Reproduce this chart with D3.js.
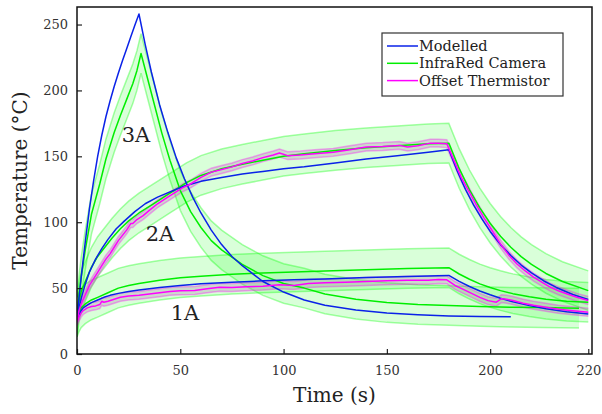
<!DOCTYPE html>
<html><head><meta charset="utf-8">
<script src="https://cdn.jsdelivr.net/npm/d3@7"></script>
<style>body{margin:0;background:#fff}svg{display:block}</style>
</head><body><svg id="c" width="602" height="414"></svg>
<script>
// ---- data ----
const xTickValues = [0, 50, 100, 150, 200, 247.5];
const xTickLabels = ["0", "50", "100", "150", "200", "220"];
const yTickValues = [0, 50, 100, 150, 200, 250];
const seriesNames = ["Modelled", "InfraRed Camera", "Offset Thermistor"];
const cameraUncertainty = 15;
const thermistorUncertainty = 3;

// 3A
const t3A_model = [0,2,4,6,8,10,12,14,16,18,20,22,24,26,28,30,33,36,40,44,48,52,56,60,65,70,75,80,90,100,110,120,135,150,165,180,195,210];
const T3A_model = [28,58,85,110,131,150,166,180,192,203,213,222.5,231.5,240.5,249.5,258,235,214,189,168,149,133,119,107,94,83,74,67,55,47,41,37,33.4,31.2,29.8,28.9,28.4,28.2];
const t3A_cam = [0,1,2,4,7,11,14,18,21,24,27,29,31,34,37,41,45,50,55,60,65,70,80,90,100,110,120,135,150,165,180,195,210,225,243];
const T3A_cam = [28,45,58,79,106,129,148,168,181,193,205,215,228,210,192,168,147,124,108,96,86,79,68,59.5,53.5,50,45.5,41.5,39,37.6,36.8,36,35.5,35.2,34.8];

// 2A
const t2A_model = [0,2,4,6,9,12,15,19,23,28,33,39,45,52,60,70,80,90,100,110,125,140,155,170,180,184,188,192,196,200,205,210,215,220,226,232,240,247.5];
const T2A_model = [28,42,53,62,72,80,87,95,101,108,114,119,123,127.5,131,134,136.5,138.5,140.5,142,145,148,150.5,153,155,139,125,113,102.5,93,83,74.7,67.5,61.5,55.4,50.5,45.1,41.3];
const t2A_cam = [0,1,2,4,7,10,13,17,21,25,30,37,45,53,60,70,80,90,100,110,125,140,155,170,180,185,190,195,200,205,210,215,220,227,235,247.5];
const T2A_cam = [28,40,47,55,66,74,80,88,95,101,107,114,122,130,135.5,140.5,144,147,150,152,154.5,156.5,158,159.5,160,140.8,124.6,110.9,99.2,89.4,81,73.9,68,61.1,55,48.1];
const t2A_therm = [0,1,2,4,6,8,10,12,14,16,18,20,22,24,26,27,29,32,35,39,43,47,51,55,60,65,70,75,80,85,90,95,98,102,108,115,124,132,140,148,156,160,165,171,175,179,183,186,189,193,197,201,205,209,213,217,221,225,229,233,237,242,247.5];
const T2A_therm = [25,33,38,45,52,57,62,67,72,76,81,86,90,94,99,99,102,105,109,114,118,122,126,129,134,138,140,142,144.5,146.5,149,151,152.5,150.5,151,152,153,155,157,157.5,158.3,157,158,160,160,159.6,145,134,125.5,114,103.3,93.5,83.5,75,68.3,63,58.3,54.5,50.8,48,45.7,43,40.6];

// 1A
const t1A_model = [0,1,2,3,5,7,10,13,16,20,25,30,40,50,60,75,90,105,120,140,160,180,185,190,195,200,205,211,219,227,237,247.5];
const T1A_model = [26,30,33,35,37,39,41,43,44.5,46,47.5,48.5,50.5,52,53.3,54.5,55.5,56.3,57,58,58.8,59.6,55.1,51.2,47.8,44.9,42.3,39.6,36.7,34.4,32.1,30.3];
const t1A_cam = [0,1,2,4,7,10,15,20,25,30,40,50,60,75,90,105,120,140,160,180,185,190,195,200,205,211,219,227,237,247.5];
const T1A_cam = [28,32,35,38,41,43,46.5,50,52,53.5,56,57.8,59,60.5,61.5,62.3,63,64,64.8,65.5,60.7,56.7,53.2,50.4,48.1,45.8,43.4,41.6,40.1,39.3];
const t1A_therm = [0,1,2,3,5,7,9,11,12,13,15,18,21,25,30,35,40,45,50,57,63,69,75,82,90,98,105,112,120,130,140,150,160,170,175,179,183,187,191,195,199,203,205.5,208,211,216,221,227,233,240,247.5];
const T1A_therm = [24,28,31,33,35,36,36.5,37.5,40,39.3,40,41.5,43,44,44.5,45.5,46.5,47.5,48,48.2,49.5,50.7,50.5,51,51.5,52.5,52,53.5,54,54.5,55,55.5,56,56,56.5,56.3,52,49,46,43,40.5,39.3,42,41.5,40.6,38.5,37,35.5,34,32.8,31.7];

const caseLabels = ["3A", "2A", "1A"];
const caseLabelPos = [[136, 141.7], [160, 240.7], [185, 320]]; // label anchors in px

// ---- chart ----
const svg = d3.select("#c");
const L = 77, R = 592, T = 7, B = 354;
const x = d3.scaleLinear().domain([0, 249.3]).range([L, R]);
const y = d3.scaleLinear().domain([0, 263.3]).range([B, T]);
const zip = (ts, vs) => ts.map((t, i) => [t, vs[i]]);

svg.append("defs").append("clipPath").attr("id", "clip")
  .append("rect").attr("x", L).attr("y", T).attr("width", R - L).attr("height", B - T);

const g = svg.append("g").attr("clip-path", "url(#clip)");
const line = d3.line().x(d => x(d[0])).y(d => y(d[1]));
const lineOff = (k) => d3.line().x(d => x(d[0])).y(d => y(d[1] + k));
const area = (hw) => d3.area().x(d => x(d[0])).y0(d => y(d[1] - hw)).y1(d => y(d[1] + hw));

const COL_MODEL = "#0a22e8", COL_CAM = "#00ee00", COL_TH = "#ff00ff";

function camBand(d) {
  g.append("path").attr("d", area(cameraUncertainty)(d)).attr("fill", "#00ff00").attr("fill-opacity", 0.15);
  [cameraUncertainty, -cameraUncertainty].forEach(k =>
    g.append("path").attr("d", lineOff(k)(d)).attr("fill", "none").attr("stroke", "#00ff00").attr("stroke-opacity", 0.35).attr("stroke-width", 1.5));
}
function thBand(d) {
  g.append("path").attr("d", area(thermistorUncertainty)(d)).attr("fill", "#b080b0").attr("fill-opacity", 0.3);
  [thermistorUncertainty, -thermistorUncertainty].forEach(k =>
    g.append("path").attr("d", lineOff(k)(d)).attr("fill", "none").attr("stroke", "#ff00ff").attr("stroke-opacity", 0.35).attr("stroke-width", 1.5));
}
function ln(d, c) {
  g.append("path").attr("d", line(d)).attr("fill", "none").attr("stroke", c).attr("stroke-width", 1.5).attr("stroke-linejoin", "round");
}

const d3A_m = zip(t3A_model, T3A_model), d3A_c = zip(t3A_cam, T3A_cam);
const d2A_m = zip(t2A_model, T2A_model), d2A_c = zip(t2A_cam, T2A_cam), d2A_t = zip(t2A_therm, T2A_therm);
const d1A_m = zip(t1A_model, T1A_model), d1A_c = zip(t1A_cam, T1A_cam), d1A_t = zip(t1A_therm, T1A_therm);

[d1A_c, d2A_c, d3A_c].forEach(camBand);
[d1A_t, d2A_t].forEach(thBand);
[d1A_c, d2A_c, d3A_c].forEach(d => ln(d, COL_CAM));
[d1A_m, d2A_m, d3A_m].forEach(d => ln(d, COL_MODEL));
[d1A_t, d2A_t].forEach(d => ln(d, COL_TH));

// axes
const FONT = "DejaVu Serif";
const xAxis = d3.axisBottom(x).tickValues(xTickValues).tickFormat((d, i) => xTickLabels[i]).tickSizeInner(-5).tickSizeOuter(0).tickPadding(12);
const yAxis = d3.axisLeft(y).tickValues(yTickValues).tickFormat(d3.format("d")).tickSizeInner(-5).tickSizeOuter(0).tickPadding(9);
const gx = svg.append("g").attr("transform", `translate(0,${B})`).call(xAxis);
const gy = svg.append("g").attr("transform", `translate(${L},0)`).call(yAxis);
[gx, gy].forEach(a => {
  a.select(".domain").remove();
  a.selectAll("line").attr("stroke", "#222").attr("stroke-width", 1.2);
  a.selectAll("text").attr("font-family", FONT).attr("font-size", 13).attr("fill", "#333");
});
svg.append("rect").attr("x", L).attr("y", T).attr("width", R - L).attr("height", B - T)
  .attr("fill", "none").attr("stroke", "#111").attr("stroke-width", 1.5);

svg.append("text").attr("x", (L + R) / 2).attr("y", 402).attr("text-anchor", "middle")
  .attr("font-family", FONT).attr("font-size", 20).attr("fill", "#222").text("Time (s)");
svg.append("text").attr("transform", `translate(27,${(T + B) / 2}) rotate(-90)`).attr("text-anchor", "middle")
  .attr("font-family", FONT).attr("font-size", 20).attr("fill", "#222").text("Temperature (°C)");

caseLabels.forEach((s, i) => svg.append("text").attr("x", caseLabelPos[i][0]).attr("y", caseLabelPos[i][1])
  .attr("text-anchor", "middle").attr("font-family", FONT).attr("font-size", 21).attr("fill", "#222").text(s));

// legend
const lg = svg.append("g");
lg.append("rect").attr("x", 382).attr("y", 33).attr("width", 181).attr("height", 63)
  .attr("fill", "#fff").attr("stroke", "#333").attr("stroke-width", 1.2);
const legCols = [COL_MODEL, COL_CAM, COL_TH];
seriesNames.forEach((s, i) => {
  const yy = 46 + i * 17.3;
  lg.append("line").attr("x1", 387).attr("x2", 418).attr("y1", yy).attr("y2", yy).attr("stroke", legCols[i]).attr("stroke-width", 1.5);
  lg.append("text").attr("x", 419).attr("y", yy).attr("dy", "0.35em").attr("font-family", FONT).attr("font-size", 14.5).attr("fill", "#222").text(s);
});
</script></body></html>
